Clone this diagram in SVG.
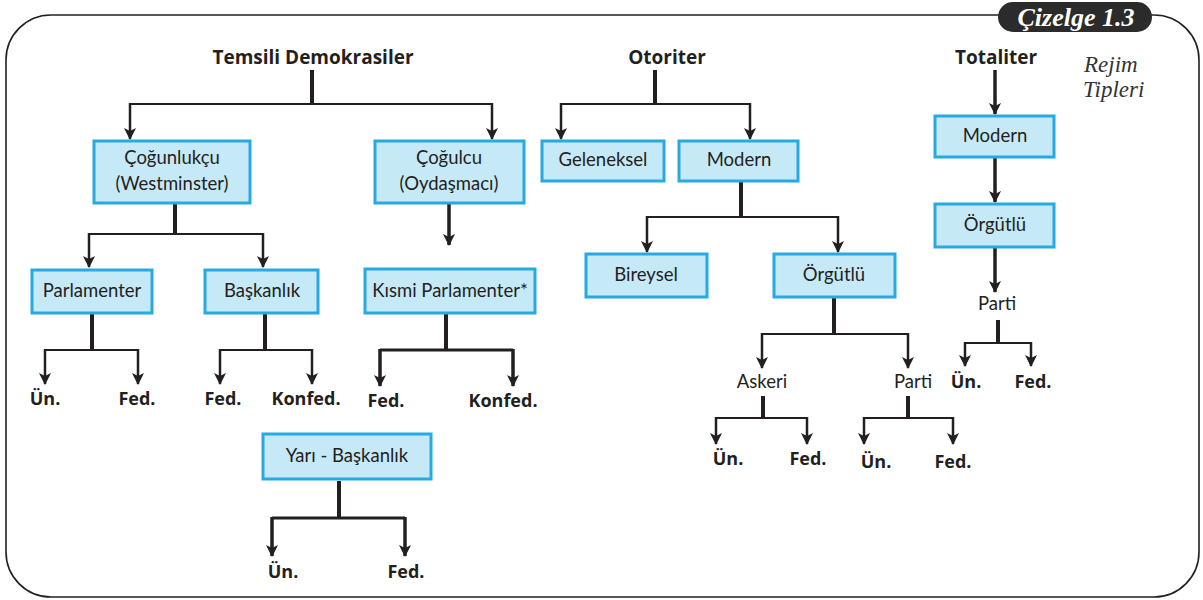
<svg xmlns="http://www.w3.org/2000/svg" width="1203" height="600" viewBox="0 0 1203 600">
<defs>
<marker id="ah" viewBox="0 0 12 12" refX="11" refY="6" markerWidth="12" markerHeight="12" markerUnits="userSpaceOnUse" orient="auto">
<path d="M0,0 L12,6 L0,12 L3,6 z" fill="#231f20"/>
</marker>
<style>
.box{fill:#c6e9f8;stroke:#27aae1;stroke-width:3}
.t{font-family:Lato,"Open Sans",sans-serif;font-size:18.5px;fill:#231f20;text-anchor:middle}
.b{font-family:"Open Sans",Lato,sans-serif;font-size:18px;font-weight:bold;fill:#231f20;text-anchor:middle}
.h{font-family:"Open Sans",Lato,sans-serif;font-size:19px;font-weight:bold;fill:#231f20;text-anchor:middle}
.ln{fill:none;stroke:#231f20;stroke-width:2.2}
.st{fill:none;stroke:#231f20;stroke-width:4}
.ar{fill:none;stroke:#231f20;stroke-width:2.5;marker-end:url(#ah)}
.arb{fill:none;stroke:#231f20;stroke-width:3.5;marker-end:url(#ah)}
</style>
</defs>
<rect width="1203" height="600" fill="#fff"/>
<rect x="6" y="15" width="1193" height="582" rx="45" ry="45" fill="none" stroke="#231f20" stroke-width="1.6"/>
<g id="badge">
<rect x="998" y="2" width="154" height="30" rx="15" ry="15" fill="#2b2b2b"/>
<text x="1076" y="26" font-family="'Liberation Serif',serif" font-size="26" font-weight="bold" font-style="italic" fill="#fff" text-anchor="middle">Çizelge 1.3</text>
</g>
<g id="title" font-family="'Liberation Serif',serif" font-size="23" font-style="italic" fill="#333">
<text x="1084" y="72">Rejim</text>
<text x="1083" y="97">Tipleri</text>
</g>
<g id="connectors">
<path class="st" d="M312,70 V104"/>
<path class="ln" d="M130,104 H492"/>
<path class="ar" d="M130,103 V139"/>
<path class="ar" d="M492,103 V139"/>
<path class="st" d="M175,203 V234"/>
<path class="ln" d="M89,234 H263"/>
<path class="ar" d="M89,233 V267"/>
<path class="ar" d="M263,233 V267"/>
<path class="arb" d="M449,203 V245"/>
<path class="st" d="M92,313 V350"/>
<path class="ln" d="M45,350 H138"/>
<path class="ar" d="M45,349 V384"/>
<path class="ar" d="M138,349 V384"/>
<path class="st" d="M265,313 V350"/>
<path class="ln" d="M220,350 H312"/>
<path class="ar" d="M220,349 V384"/>
<path class="ar" d="M312,349 V384"/>
<path class="st" d="M446,313 V350"/>
<path class="st" d="M380,350 H513" style="stroke-width:3"/>
<path class="arb" d="M380,349 V386"/>
<path class="arb" d="M513,349 V386"/>
<path class="st" d="M339,481 V518"/>
<path class="st" d="M272,518 H405" style="stroke-width:3"/>
<path class="arb" d="M272,517 V556"/>
<path class="arb" d="M405,517 V556"/>
<path class="st" d="M655,70 V104"/>
<path class="ln" d="M561,104 H750"/>
<path class="ar" d="M561,103 V139"/>
<path class="ar" d="M750,103 V139"/>
<path class="st" d="M741,181 V217"/>
<path class="ln" d="M647,217 H838"/>
<path class="ar" d="M647,216 V252"/>
<path class="ar" d="M838,216 V252"/>
<path class="st" d="M834,298 V334"/>
<path class="ln" d="M762,334 H908"/>
<path class="ar" d="M762,333 V368"/>
<path class="ar" d="M908,333 V368"/>
<path class="st" d="M763,396 V418"/>
<path class="ln" d="M716,418 H807"/>
<path class="ar" d="M716,417 V444"/>
<path class="ar" d="M807,417 V444"/>
<path class="st" d="M908,396 V418"/>
<path class="ln" d="M864,418 H953"/>
<path class="ar" d="M864,417 V444"/>
<path class="ar" d="M953,417 V444"/>
<path class="arb" d="M995,70 V114"/>
<path class="arb" d="M995,158 V202"/>
<path class="arb" d="M995,248 V292"/>
<path class="st" d="M998,320 V343"/>
<path class="ln" d="M965,343 H1031"/>
<path class="ar" d="M965,342 V366"/>
<path class="ar" d="M1031,342 V366"/>
</g>
<g id="n-temsili"><text class="h" x="313" y="64">Temsili Demokrasiler</text></g>
<g id="n-otoriter"><text class="h" x="667" y="64">Otoriter</text></g>
<g id="n-totaliter"><text class="h" x="996" y="64">Totaliter</text></g>
<g id="n-cogunlukcu"><rect class="box" x="94" y="141" width="156" height="62"/><text class="t" x="172" y="164">Çoğunlukçu</text><text class="t" x="172" y="190">(Westminster)</text></g>
<g id="n-cogulcu"><rect class="box" x="375" y="141" width="149" height="62"/><text class="t" x="449" y="164">Çoğulcu</text><text class="t" x="449" y="190">(Oydaşmacı)</text></g>
<g id="n-parlamenter"><rect class="box" x="32" y="270" width="120" height="43"/><text class="t" x="92" y="297">Parlamenter</text></g>
<g id="n-baskanlik"><rect class="box" x="205" y="270" width="113" height="43"/><text class="t" x="262" y="297">Başkanlık</text></g>
<g id="n-kismi"><rect class="box" x="365" y="269" width="170" height="44"/><text class="t" x="450" y="297">Kısmi Parlamenter*</text></g>
<g id="n-yari"><rect class="box" x="263" y="434" width="168" height="45"/><text class="t" x="347" y="462">Yarı - Başkanlık</text></g>
<g id="n-geleneksel"><rect class="box" x="542" y="141" width="122" height="40"/><text class="t" x="603" y="166">Geleneksel</text></g>
<g id="n-modern1"><rect class="box" x="679" y="141" width="119" height="40"/><text class="t" x="739" y="166">Modern</text></g>
<g id="n-bireysel"><rect class="box" x="586" y="254" width="121" height="43"/><text class="t" x="646" y="281">Bireysel</text></g>
<g id="n-orgutlu1"><rect class="box" x="774" y="254" width="121" height="43"/><text class="t" x="834" y="281">Örgütlü</text></g>
<g id="n-askeri"><text class="t" x="762" y="388">Askeri</text></g>
<g id="n-parti1"><text class="t" x="913" y="388">Parti</text></g>
<g id="n-modern2"><rect class="box" x="935" y="116" width="119" height="41"/><text class="t" x="995" y="142">Modern</text></g>
<g id="n-orgutlu2"><rect class="box" x="935" y="204" width="119" height="43"/><text class="t" x="995" y="231">Örgütlü</text></g>
<g id="n-parti2"><text class="t" x="997" y="310">Parti</text></g>
<g id="leaves">
<text class="b" x="45" y="405">Ün.</text>
<text class="b" x="137" y="405">Fed.</text>
<text class="b" x="223" y="405">Fed.</text>
<text class="b" x="306" y="405">Konfed.</text>
<text class="b" x="386" y="407">Fed.</text>
<text class="b" x="503" y="407">Konfed.</text>
<text class="b" x="283" y="578">Ün.</text>
<text class="b" x="406" y="578">Fed.</text>
<text class="b" x="728" y="465">Ün.</text>
<text class="b" x="808" y="465">Fed.</text>
<text class="b" x="876" y="468">Ün.</text>
<text class="b" x="953" y="468">Fed.</text>
<text class="b" x="966" y="388">Ün.</text>
<text class="b" x="1033" y="388">Fed.</text>
</g>
</svg>
